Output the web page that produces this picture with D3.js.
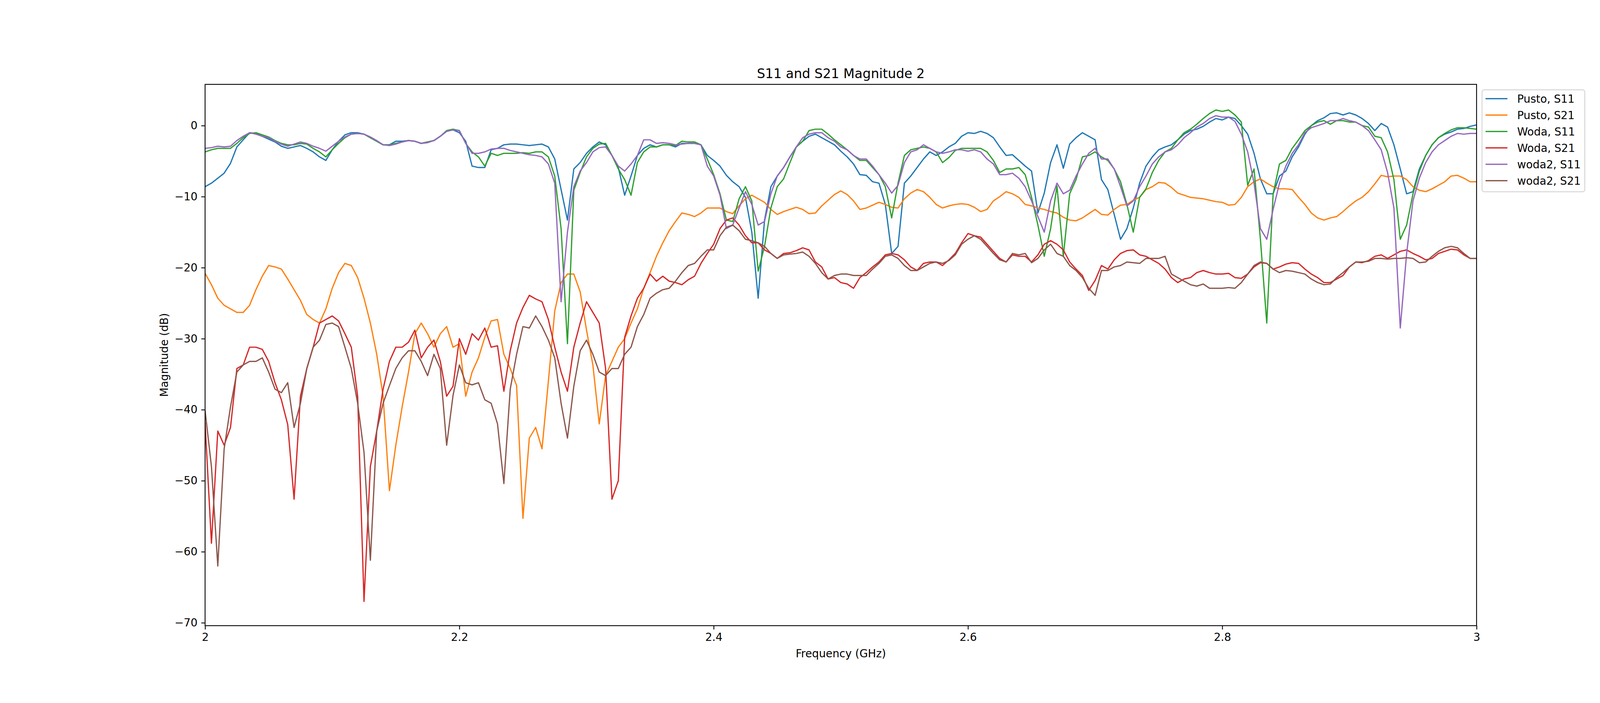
<!DOCTYPE html>
<html>
<head>
<meta charset="utf-8">
<script src="https://cdn.jsdelivr.net/npm/d3@7"></script>
<style>
  body { margin: 0; background: #fff; }
  text { font-family: "DejaVu Sans", sans-serif; }
</style>
</head>
<body>
<div id="canvas"></div>
<script>
// sweep grid: 2.000 .. 3.000 GHz, 0.005 GHz step (201 points)
var freq = d3.range(201).map(function(i) { return +(2 + i * 0.005).toFixed(3); });

// Pusto, S11
var pustoS11 = [
  -8.6, -8.1, -7.4, -6.7, -5.3, -3.0, -2.0, -1.0, -1.1, -1.5,
  -1.9, -2.3, -2.9, -3.2, -3.0, -2.8, -3.2, -3.7, -4.4, -4.9,
  -3.4, -2.2, -1.3, -1.0, -1.0, -1.2, -1.7, -2.2, -2.7, -2.7,
  -2.2, -2.2, -2.1, -2.2, -2.5, -2.3, -2.1, -1.5, -0.8, -0.6,
  -1.0, -2.2, -5.7, -5.9, -5.9, -3.4, -3.2, -2.7, -2.6, -2.6,
  -2.7, -2.8, -2.7, -2.6, -3.0, -4.7, -9.0, -13.3, -6.1, -5.2,
  -3.9, -3.0, -2.3, -2.7, -4.2, -5.9, -9.8, -7.1, -4.2, -3.2,
  -2.7, -3.0, -2.7, -2.7, -3.0, -2.5, -2.5, -2.5, -2.7, -4.2,
  -4.9, -5.7, -7.0, -7.9, -8.6, -10.1, -15.0, -24.3, -13.3, -8.6,
  -7.1, -5.9, -4.4, -3.0, -2.2, -1.5, -1.2, -1.7, -2.2, -2.7,
  -3.6, -4.4, -5.4, -6.9, -7.0, -7.9, -8.1, -11.1, -18.0, -17.0,
  -8.1, -7.1, -5.9, -4.7, -3.7, -4.2, -3.7, -3.0, -2.5, -1.5,
  -1.0, -1.1, -0.8, -1.1, -1.7, -3.0, -4.2, -4.1, -4.9, -5.7,
  -6.4, -12.3, -9.5, -5.2, -2.7, -6.0, -2.6, -1.7, -1.0, -1.5,
  -2.0, -7.6, -9.0, -12.5, -16.0, -14.5, -11.6, -8.1, -5.7, -4.4,
  -3.4, -3.0, -2.7, -2.0, -1.2, -0.7, -0.5, -0.1, 0.5, 1.0,
  0.8, 1.2, 1.0, 0.0, -1.2, -3.9, -7.5, -9.6, -9.6, -7.1,
  -6.4, -4.4, -3.0, -1.2, 0.0, 0.7, 1.1, 1.7, 1.8, 1.5,
  1.8, 1.5, 1.0, 0.3, -0.7, 0.3, -0.2, -2.7, -6.1, -9.6,
  -9.3, -6.1, -4.2, -2.7, -1.7, -1.2, -0.9, -0.5, -0.4, -0.1,
  0.1
];

// Pusto, S21
var pustoS21 = [
  -20.8, -22.4, -24.3, -25.3, -25.8, -26.3, -26.3, -25.3, -23.1, -21.2,
  -19.7, -19.9, -20.2, -21.6, -23.1, -24.6, -26.6, -27.3, -27.8, -25.8,
  -22.9, -20.7, -19.4, -19.7, -21.4, -24.3, -27.8, -32.2, -38.1, -51.4,
  -45.0, -39.6, -34.7, -29.3, -27.8, -29.3, -31.2, -29.3, -28.3, -31.2,
  -30.7, -38.1, -34.7, -32.7, -29.8, -27.5, -27.3, -32.2, -34.2, -36.6,
  -55.3, -44.0, -42.5, -45.5, -36.0, -26.1, -22.1, -20.9, -20.9, -23.4,
  -28.8, -33.7, -42.0, -35.2, -33.2, -31.2, -30.0, -27.8, -25.8, -22.9,
  -20.7, -18.4, -16.5, -14.8, -13.5, -12.3, -12.5, -12.8, -12.3, -11.6,
  -11.6, -11.6, -12.1, -12.4, -11.3, -10.3, -9.8, -10.3, -10.8, -11.8,
  -12.5, -12.1, -11.8, -11.5, -11.8, -12.4, -12.3, -11.3, -10.5, -9.7,
  -9.2, -9.7, -10.6, -11.8, -11.6, -11.2, -10.8, -11.1, -11.5, -11.6,
  -10.3, -9.5, -9.0, -9.3, -10.1, -11.1, -11.6, -11.3, -11.1, -11.0,
  -11.1, -11.5, -12.1, -11.8, -10.6, -10.0, -9.3, -9.6, -10.1, -11.1,
  -11.3, -11.6, -11.8, -12.1, -12.3, -12.9, -13.3, -13.4, -13.0, -12.4,
  -11.8, -12.5, -12.6, -11.8, -11.2, -11.1, -10.5, -10.1, -9.0, -8.6,
  -8.0, -8.1, -8.7, -9.5, -9.8, -10.1, -10.2, -10.3, -10.5, -10.7,
  -10.8, -11.2, -11.1, -10.1, -8.6, -7.9, -7.5, -8.1, -8.6, -8.9,
  -8.9, -9.0, -10.1, -11.1, -12.3, -13.0, -13.3, -13.0, -12.8, -12.1,
  -11.3, -10.6, -10.1, -9.3, -8.2, -7.0, -7.2, -7.1, -7.1, -7.6,
  -8.6, -9.1, -9.3, -8.9, -8.4, -7.9, -7.1, -7.0, -7.4, -7.9,
  -7.9
];

// Woda, S11
var wodaS11 = [
  -3.7, -3.4, -3.2, -3.2, -3.2, -2.5, -1.7, -1.1, -1.0, -1.3,
  -1.6, -2.1, -2.5, -2.7, -2.7, -2.5, -2.6, -3.2, -3.7, -4.4,
  -3.4, -2.5, -1.7, -1.2, -1.1, -1.2, -1.7, -2.2, -2.7, -2.7,
  -2.5, -2.3, -2.1, -2.2, -2.5, -2.3, -2.1, -1.5, -0.7, -0.5,
  -0.7, -2.5, -3.7, -4.4, -5.7, -3.9, -4.2, -3.9, -3.9, -3.9,
  -3.8, -3.9, -3.7, -3.7, -4.4, -7.1, -14.5, -30.7, -9.1, -6.6,
  -4.4, -3.2, -2.6, -2.5, -4.2, -6.1, -7.6, -9.8, -5.2, -3.7,
  -3.0, -3.0, -2.7, -2.7, -2.8, -2.2, -2.3, -2.3, -2.7, -4.7,
  -6.9, -9.6, -13.3, -13.5, -10.3, -8.6, -10.6, -20.5, -17.0, -11.6,
  -8.6, -7.5, -5.2, -3.0, -2.2, -0.7, -0.5, -0.5, -1.2, -2.0,
  -2.7, -3.4, -4.2, -4.9, -4.9, -5.9, -6.9, -8.6, -13.0, -8.1,
  -4.2, -3.4, -3.2, -3.0, -3.2, -3.7, -5.2, -4.5, -3.5, -3.2,
  -3.2, -3.2, -3.2, -3.7, -4.9, -6.6, -6.1, -6.1, -5.9, -6.9,
  -10.1, -14.0, -18.4, -14.5, -8.5, -18.4, -9.6, -7.6, -4.4, -4.2,
  -3.7, -4.4, -4.9, -6.1, -7.9, -11.1, -15.0, -10.1, -8.9, -6.6,
  -4.9, -3.7, -3.2, -2.0, -1.0, -0.5, 0.2, 1.0, 1.7, 2.2,
  2.0, 2.2, 1.5, 0.5, -8.4, -6.1, -16.0, -27.8, -9.6, -5.4,
  -4.9, -3.2, -2.0, -0.7, 0.0, 0.5, 0.7, 0.2, 0.7, 0.7,
  0.5, 0.5, 0.0, -0.2, -1.5, -1.7, -3.7, -7.6, -16.0, -14.0,
  -9.6, -6.4, -4.2, -2.7, -1.7, -1.1, -0.6, -0.3, -0.3, -0.4,
  -0.5
];

// Woda, S21
var wodaS21 = [
  -41.8, -58.8, -43.0, -45.0, -42.5, -34.2, -33.7, -31.2, -31.2, -31.5,
  -33.2, -36.2, -38.6, -42.1, -52.6, -38.1, -34.2, -31.2, -27.8, -27.3,
  -26.8, -27.5, -29.3, -31.2, -38.1, -67.0, -48.0, -43.0, -37.1, -33.2,
  -31.2, -31.2, -30.5, -28.8, -32.7, -31.2, -30.2, -33.2, -38.1, -36.7,
  -30.0, -32.2, -29.3, -30.2, -28.5, -31.2, -31.0, -37.4, -31.7, -27.8,
  -25.6, -23.9, -24.4, -24.8, -27.3, -31.2, -34.7, -37.4, -31.2, -27.8,
  -24.8, -26.3, -27.8, -34.2, -52.6, -50.0, -29.8, -26.8, -24.3, -22.9,
  -20.9, -21.9, -21.2, -21.9, -22.1, -22.4, -21.7, -21.2, -19.4, -18.0,
  -16.7, -14.5, -13.3, -13.0, -14.0, -15.5, -16.5, -16.5, -17.5, -18.0,
  -18.7, -18.0, -17.9, -17.6, -17.2, -17.5, -19.2, -19.9, -21.6, -21.4,
  -22.1, -22.3, -22.9, -21.4, -20.7, -19.9, -19.2, -18.2, -18.0, -18.2,
  -18.9, -19.9, -20.4, -19.4, -19.2, -19.2, -19.7, -18.9, -18.0, -16.5,
  -15.2, -15.5, -15.7, -16.7, -17.7, -18.7, -19.2, -18.2, -18.4, -18.4,
  -19.2, -18.2, -16.7, -16.2, -16.7, -17.5, -19.2, -20.2, -21.1, -23.2,
  -21.8, -19.7, -20.2, -18.9, -18.0, -17.6, -17.5, -18.2, -18.4, -18.9,
  -19.4, -20.2, -21.4, -22.1, -21.6, -21.4, -20.7, -20.4, -20.7, -20.9,
  -20.9, -20.8, -21.4, -21.5, -20.9, -19.9, -19.3, -19.4, -20.2, -19.9,
  -19.5, -19.3, -19.4, -20.2, -20.9, -21.4, -22.1, -22.1, -21.6, -21.1,
  -19.9, -19.2, -19.3, -19.0, -18.4, -18.2, -18.7, -18.2, -17.7, -17.5,
  -18.0, -18.4, -18.9, -18.7, -18.0, -17.7, -17.4, -17.5, -18.2, -18.7,
  -18.7
];

// woda2, S11
var woda2S11 = [
  -3.2, -3.1, -2.9, -3.0, -2.9, -2.1, -1.5, -1.0, -1.2, -1.5,
  -1.7, -2.2, -2.6, -2.9, -2.6, -2.3, -2.5, -2.9, -3.2, -3.6,
  -2.9, -2.2, -1.6, -1.2, -1.1, -1.2, -1.6, -2.1, -2.7, -2.8,
  -2.6, -2.3, -2.1, -2.2, -2.5, -2.4, -2.1, -1.5, -0.8, -0.6,
  -0.7, -2.5, -3.9, -3.9, -3.7, -3.3, -3.2, -3.2, -3.5, -3.7,
  -3.9, -4.1, -4.2, -4.4, -5.4, -8.1, -24.8, -15.0, -8.6, -6.4,
  -5.2, -3.7, -3.1, -3.0, -4.2, -5.7, -6.4, -5.4, -4.2, -2.0,
  -2.0, -2.5, -2.4, -2.5, -2.7, -2.6, -2.5, -2.5, -2.7, -5.7,
  -7.1, -9.8, -14.5, -14.0, -11.6, -9.3, -11.1, -14.0, -13.5, -9.6,
  -7.1, -5.9, -4.4, -3.0, -1.7, -1.2, -1.0, -1.0, -1.7, -2.2,
  -3.0, -3.4, -4.2, -4.7, -4.7, -5.7, -6.9, -8.1, -9.5, -8.4,
  -5.2, -3.7, -3.4, -2.7, -3.2, -3.7, -3.9, -3.7, -3.4, -3.4,
  -3.6, -3.4, -3.7, -4.7, -5.4, -6.9, -6.9, -6.7, -7.4, -8.6,
  -10.6, -12.8, -15.0, -10.6, -8.1, -9.6, -9.1, -7.1, -5.4, -3.9,
  -3.2, -4.7, -4.7, -6.1, -8.6, -11.3, -10.6, -8.6, -7.1, -5.4,
  -4.4, -3.7, -3.4, -2.7, -1.7, -1.0, -0.2, 0.3, 1.0, 1.4,
  1.2, 1.2, 0.6, -1.2, -3.7, -8.1, -14.5, -16.0, -11.8, -8.1,
  -5.7, -3.9, -2.7, -1.0, -0.3, 0.0, 0.3, 0.7, 0.7, 1.0,
  0.7, 0.5, 0.0, -0.7, -2.0, -3.4, -6.6, -11.6, -28.5, -18.0,
  -10.6, -7.4, -5.2, -3.7, -2.7, -2.1, -1.5, -1.1, -1.2, -1.1,
  -1.1
];

// woda2, S21
var woda2S21 = [
  -40.1, -48.0, -62.0, -45.5, -39.6, -34.7, -33.7, -33.2, -33.2, -32.7,
  -34.7, -37.1, -37.6, -36.2, -42.5, -39.1, -34.2, -31.2, -30.2, -28.0,
  -27.8, -28.3, -31.2, -34.2, -39.1, -46.0, -61.2, -43.0, -39.1, -36.6,
  -34.2, -32.7, -31.7, -31.7, -33.2, -35.2, -32.2, -34.2, -45.0, -38.0,
  -33.7, -36.2, -36.5, -36.2, -38.6, -39.1, -42.0, -50.4, -37.1, -32.2,
  -28.3, -28.5, -26.8, -28.3, -30.2, -32.7, -39.1, -44.0, -36.7, -31.7,
  -30.2, -32.2, -34.7, -35.2, -34.2, -34.2, -32.2, -31.2, -28.3, -26.6,
  -24.3, -23.6, -23.1, -22.9, -21.9, -20.7, -19.7, -19.4, -18.4, -17.5,
  -17.5, -15.5, -14.3, -14.0, -14.8, -16.0, -16.2, -16.5, -17.0, -18.0,
  -18.7, -18.2, -18.1, -18.0, -17.8, -18.4, -19.4, -20.7, -21.6, -21.1,
  -20.9, -20.9, -21.1, -21.1, -21.1, -20.2, -19.4, -18.4, -18.2, -18.7,
  -19.7, -20.4, -20.4, -19.9, -19.4, -19.2, -19.4, -19.0, -18.2, -16.7,
  -16.0, -15.5, -16.0, -17.0, -18.0, -18.9, -19.2, -18.0, -18.2, -18.0,
  -19.3, -18.7, -17.5, -16.7, -18.0, -18.4, -19.7, -20.4, -21.4, -22.9,
  -23.9, -20.4, -20.4, -19.9, -19.7, -19.2, -19.3, -19.4, -18.7, -18.7,
  -18.7, -18.4, -20.9, -21.4, -21.9, -22.4, -22.6, -22.3, -22.9, -22.9,
  -22.9, -22.8, -22.9, -22.1, -20.9, -19.7, -19.2, -19.4, -20.2, -20.7,
  -20.4, -20.5, -20.7, -20.9, -21.6, -22.1, -22.4, -22.3, -21.4, -20.7,
  -19.9, -19.2, -19.2, -19.1, -18.7, -18.7, -18.8, -18.7, -18.7, -18.6,
  -18.7, -19.3, -19.2, -18.4, -17.7, -17.2, -17.0, -17.2, -18.0, -18.7,
  -18.7
];

var seriesNames = ["Pusto, S11", "Pusto, S21", "Woda, S11", "Woda, S21", "woda2, S11", "woda2, S21"];
var seriesValues = [pustoS11, pustoS21, wodaS11, wodaS21, woda2S11, woda2S21];
var seriesColors = ["#1f77b4", "#ff7f0e", "#2ca02c", "#d62728", "#9467bd", "#8c564b"];

var xTicks = [2, 2.2, 2.4, 2.6, 2.8, 3];
var xTickLabels = ["2", "2.2", "2.4", "2.6", "2.8", "3"];
var yTicks = [0, -10, -20, -30, -40, -50, -60, -70];

// figure layout (matplotlib-like, 21x9 in at 200 dpi)
var W = 4200, H = 1800;
var plot = { left: 525, right: 3780, top: 216, bottom: 1602 };
var fontSize = 27.8;

var svg = d3.select("#canvas")
  .append("svg")
  .attr("width", W)
  .attr("height", H)
  .style("display", "block");

svg.append("rect").attr("width", W).attr("height", H).attr("fill", "#fff");

var x = d3.scaleLinear().domain([2, 3]).range([plot.left, plot.right]);
var y = d3.scaleLinear().domain([-70.41, 5.81]).range([plot.bottom, plot.top]);

// clip the traces to the axes box
svg.append("clipPath").attr("id", "clip")
  .append("rect")
  .attr("x", plot.left).attr("y", plot.top)
  .attr("width", plot.right - plot.left).attr("height", plot.bottom - plot.top);

var line = d3.line()
  .x(function(d) { return x(d[0]); })
  .y(function(d) { return y(d[1]); });

var traces = svg.append("g").attr("clip-path", "url(#clip)");
seriesValues.forEach(function(vals, k) {
  var n = Math.min(freq.length, vals.length);
  var pts = [];
  for (var i = 0; i < n; i++) pts.push([freq[i], vals[i]]);
  traces.append("path")
    .datum(pts)
    .attr("fill", "none")
    .attr("stroke", seriesColors[k])
    .attr("stroke-width", 3.2)
    .attr("stroke-linejoin", "round")
    .attr("stroke-linecap", "butt")
    .attr("d", line);
});

// axes
var xAxis = d3.axisBottom(x)
  .tickValues(xTicks)
  .tickFormat(function(d, i) { return xTickLabels[i]; })
  .tickSize(9.7).tickSizeOuter(0).tickPadding(9.7);
var yAxis = d3.axisLeft(y)
  .tickValues(yTicks)
  .tickFormat(d3.format("d"))
  .tickSize(9.7).tickSizeOuter(0).tickPadding(9.7);

var gx = svg.append("g").attr("transform", "translate(0," + plot.bottom + ")").call(xAxis);
var gy = svg.append("g").attr("transform", "translate(" + plot.left + ",0)").call(yAxis);
[gx, gy].forEach(function(g) {
  g.select(".domain").remove();
  g.selectAll(".tick line").attr("stroke", "#000").attr("stroke-width", 2.2);
  g.selectAll(".tick text")
    .attr("fill", "#000")
    .style("font-family", "DejaVu Sans")
    .style("font-size", fontSize + "px");
});

// frame
svg.append("rect")
  .attr("x", plot.left).attr("y", plot.top)
  .attr("width", plot.right - plot.left).attr("height", plot.bottom - plot.top)
  .attr("fill", "none").attr("stroke", "#000").attr("stroke-width", 2.2);

// title and axis labels
svg.append("text")
  .attr("x", (plot.left + plot.right) / 2).attr("y", 200)
  .attr("text-anchor", "middle")
  .style("font-size", "33.3px")
  .text("S11 and S21 Magnitude 2");

svg.append("text")
  .attr("x", (plot.left + plot.right) / 2).attr("y", 1683)
  .attr("text-anchor", "middle")
  .style("font-size", fontSize + "px")
  .text("Frequency (GHz)");

svg.append("text")
  .attr("transform", "translate(430," + (plot.top + plot.bottom) / 2 + ") rotate(-90)")
  .attr("text-anchor", "middle")
  .style("font-size", fontSize + "px")
  .text("Magnitude (dB)");

// legend, outside upper right of the axes
var legend = svg.append("g").attr("transform", "translate(3794,230)");
legend.append("rect")
  .attr("width", 263).attr("height", 261)
  .attr("rx", 5.6).attr("ry", 5.6)
  .attr("fill", "#fff").attr("fill-opacity", 0.8)
  .attr("stroke", "#d6d6d6").attr("stroke-width", 2.4);
seriesNames.forEach(function(name, k) {
  var cy = 22.7 + k * 42;
  legend.append("line")
    .attr("x1", 9).attr("x2", 65).attr("y1", cy).attr("y2", cy)
    .attr("stroke", seriesColors[k]).attr("stroke-width", 3.2);
  legend.append("text")
    .attr("x", 90).attr("y", cy + 10)
    .style("font-size", fontSize + "px")
    .text(name);
});
</script>
</body>
</html>
